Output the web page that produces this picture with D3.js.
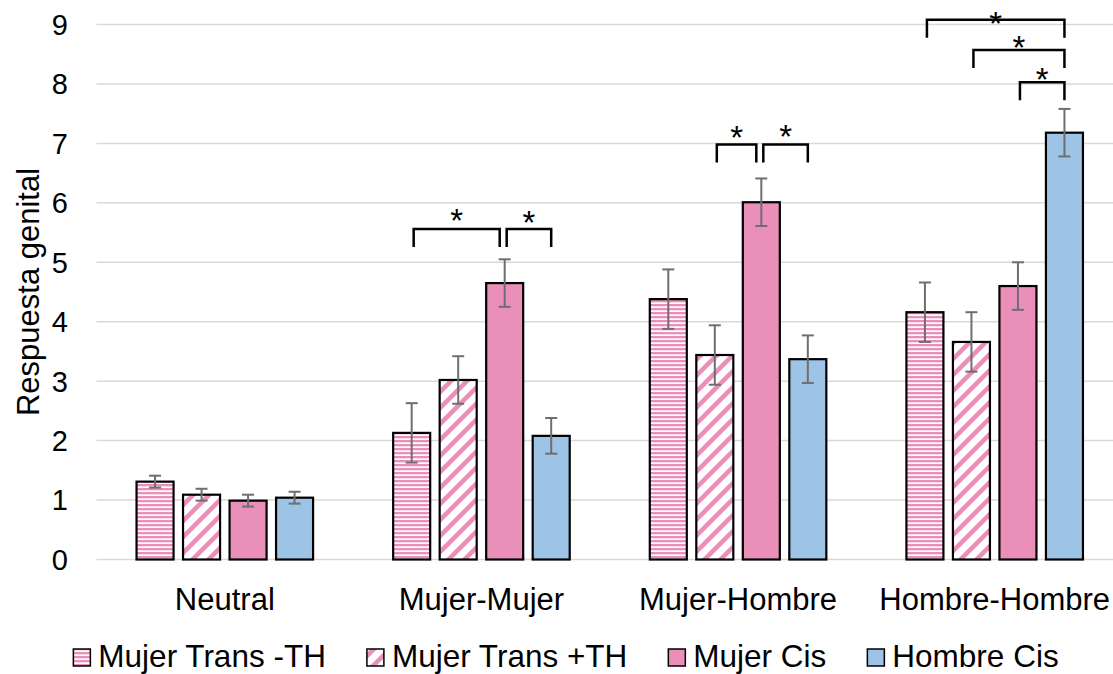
<!DOCTYPE html>
<meta charset="utf-8">

<head>
    <title>Respuesta genital</title>
    <script src="https://cdn.jsdelivr.net/npm/d3@7"></script>

    <style>
        body {
            margin: 0;
            background-color: white;
        }

        svg text {
            font-family: "Liberation Sans", Arial, sans-serif;
            fill: black;
        }
    </style>
</head>

<body>
    <svg id="svg"></svg>

    <script>
        // data
        const categories = ['Neutral', 'Mujer-Mujer', 'Mujer-Hombre', 'Hombre-Hombre']
        const series = ['Mujer Trans -TH', 'Mujer Trans +TH', 'Mujer Cis', 'Hombre Cis']

        const transSinTH = [1.31, 2.13, 4.38, 4.16]
        const transConTH = [1.09, 3.02, 3.44, 3.66]
        const mujerCis = [0.99, 4.65, 6.01, 4.60]
        const hombreCis = [1.04, 2.08, 3.37, 7.18]

        const errSinTH = [0.1, 0.5, 0.5, 0.5]
        const errConTH = [0.1, 0.4, 0.5, 0.5]
        const errMujerCis = [0.1, 0.4, 0.4, 0.4]
        const errHombreCis = [0.1, 0.3, 0.4, 0.4]

        const yTicks = [0, 1, 2, 3, 4, 5, 6, 7, 8, 9]

        // significance brackets: category, bar from, bar to, bracket level and star level (data units)
        const brackets = [
            { cat: 1, from: 0, to: 2, level: 5.56, star: 5.83 },
            { cat: 1, from: 2, to: 3, level: 5.56, star: 5.80 },
            { cat: 2, from: 1, to: 2, level: 6.98, star: 7.22 },
            { cat: 2, from: 2, to: 3, level: 6.98, star: 7.24 },
            { cat: 3, from: 0, to: 3, level: 9.08, star: 9.14 },
            { cat: 3, from: 1, to: 3, level: 8.57, star: 8.74 },
            { cat: 3, from: 2, to: 3, level: 8.03, star: 8.20 }
        ]

        const values = [transSinTH, transConTH, mujerCis, hombreCis]
        const errors = [errSinTH, errConTH, errMujerCis, errHombreCis]

        const width = 1113
        const height = 674
        const pink = '#e98fb9'
        const blue = '#9dc3e6'

        let svg = d3.select('#svg')
            .attr('width', width)
            .attr('height', height)

        // patterns for the trans series
        let defs = svg.append('defs')

        let horiz = defs.append('pattern')
            .attr('id', 'horiz')
            .attr('patternUnits', 'userSpaceOnUse')
            .attr('width', 8)
            .attr('height', 4)
        horiz.append('rect').attr('width', 8).attr('height', 4).attr('fill', 'white')
        horiz.append('rect').attr('width', 8).attr('height', 2.3).attr('fill', pink)

        let diag = defs.append('pattern')
            .attr('id', 'diag')
            .attr('patternUnits', 'userSpaceOnUse')
            .attr('width', 16)
            .attr('height', 16)
        diag.append('rect').attr('width', 16).attr('height', 16).attr('fill', 'white')
        diag.append('path')
            .attr('d', 'M-4,4 L4,-4 M0,16 L16,0 M12,20 L20,12')
            .attr('stroke', pink)
            .attr('stroke-width', 4.5)

        const fills = ['url(#horiz)', 'url(#diag)', pink, blue]

        // scales
        let x0 = d3.scaleBand()
            .domain(categories)
            .range([96.5, 1123])

        let x1 = d3.scaleBand()
            .domain(d3.range(series.length))
            .range([0, x0.bandwidth()])
            .paddingInner(0.204)
            .paddingOuter(0.861)

        let y = d3.scaleLinear()
            .domain([0, 9])
            .range([559.5, 24.5])

        // gridlines
        svg.append('g')
            .selectAll('line')
            .data(yTicks)
            .enter()
            .append('line')
            .attr('x1', 96.5)
            .attr('x2', width)
            .attr('y1', d => y(d))
            .attr('y2', d => y(d))
            .attr('stroke', '#d9d9d9')
            .attr('stroke-width', 1.5)

        // y tick labels
        svg.append('g')
            .selectAll('text')
            .data(yTicks)
            .enter()
            .append('text')
            .attr('x', 68)
            .attr('y', d => y(d))
            .attr('dy', '0.36em')
            .attr('text-anchor', 'end')
            .style('font-size', '29px')
            .text(d => d)

        // y axis title
        svg.append('text')
            .attr('transform', 'translate(39,' + (y(4.5)) + ') rotate(-90)')
            .attr('text-anchor', 'middle')
            .style('font-size', '31px')
            .text('Respuesta genital')

        // category labels
        svg.append('g')
            .selectAll('text')
            .data(categories)
            .enter()
            .append('text')
            .attr('x', d => x0(d) + x0.bandwidth() / 2)
            .attr('y', 610)
            .attr('text-anchor', 'middle')
            .style('font-size', '31px')
            .text(d => d)

        // bars
        let cells = []
        categories.forEach((cat, ci) => {
            series.forEach((s, si) => {
                cells.push({ cat: cat, ci: ci, si: si, value: values[si][ci], err: errors[si][ci] })
            })
        })

        const barX = (ci, si) => x0(categories[ci]) + x1(si)
        const barMid = (ci, si) => barX(ci, si) + x1.bandwidth() / 2

        svg.append('g')
            .selectAll('rect')
            .data(cells)
            .enter()
            .append('rect')
            .attr('x', d => barX(d.ci, d.si))
            .attr('y', d => y(d.value))
            .attr('width', x1.bandwidth())
            .attr('height', d => y(0) - y(d.value))
            .attr('fill', d => fills[d.si])
            .attr('stroke', 'black')
            .attr('stroke-width', 2.2)

        // error bars
        let errG = svg.append('g')
            .attr('stroke', '#6e6e6e')
            .attr('stroke-width', 2)
        cells.forEach((d) => {
            let cx = barMid(d.ci, d.si)
            let top = y(d.value + d.err)
            let bottom = y(d.value - d.err)
            errG.append('line').attr('x1', cx).attr('x2', cx).attr('y1', top).attr('y2', bottom)
            errG.append('line').attr('x1', cx - 6).attr('x2', cx + 6).attr('y1', top).attr('y2', top)
            errG.append('line').attr('x1', cx - 6).attr('x2', cx + 6).attr('y1', bottom).attr('y2', bottom)
        })

        // significance brackets
        let brG = svg.append('g')
        brackets.forEach((b) => {
            // leave a small gap where two brackets meet on the same bar
            let shared = brackets.some(o => o !== b && o.cat === b.cat && o.from === b.to && o.level === b.level)
            let left = barMid(b.cat, b.from) + 2
            let right = barMid(b.cat, b.to) - (shared ? 5 : 0)
            let top = y(b.level)
            brG.append('path')
                .attr('d', 'M' + left + ',' + (top + 18) + 'V' + top + 'H' + right + 'V' + (top + 18))
                .attr('fill', 'none')
                .attr('stroke', 'black')
                .attr('stroke-width', 2.5)
            brG.append('text')
                .attr('x', (left + right) / 2)
                .attr('y', y(b.star) + 19)
                .attr('text-anchor', 'middle')
                .style('font-size', '33px')
                .text('*')
        })

        // legend
        let legend = svg.append('g')
        let lx = 0
        series.forEach((s, si) => {
            let item = legend.append('g').attr('transform', 'translate(' + lx + ',0)')
            item.append('rect')
                .attr('x', 0)
                .attr('y', 649)
                .attr('width', 17)
                .attr('height', 17)
                .attr('fill', fills[si])
                .attr('stroke', 'black')
                .attr('stroke-width', 1.5)
            let t = item.append('text')
                .attr('x', 25)
                .attr('y', 667)
                .style('font-size', '31.5px')
                .text(s)
            lx += 25 + t.node().getComputedTextLength() + 41
        })
        let legendWidth = lx - 41
        legend.attr('transform', 'translate(' + (566 - legendWidth / 2) + ',0)')
    </script>

</body>

</html>
